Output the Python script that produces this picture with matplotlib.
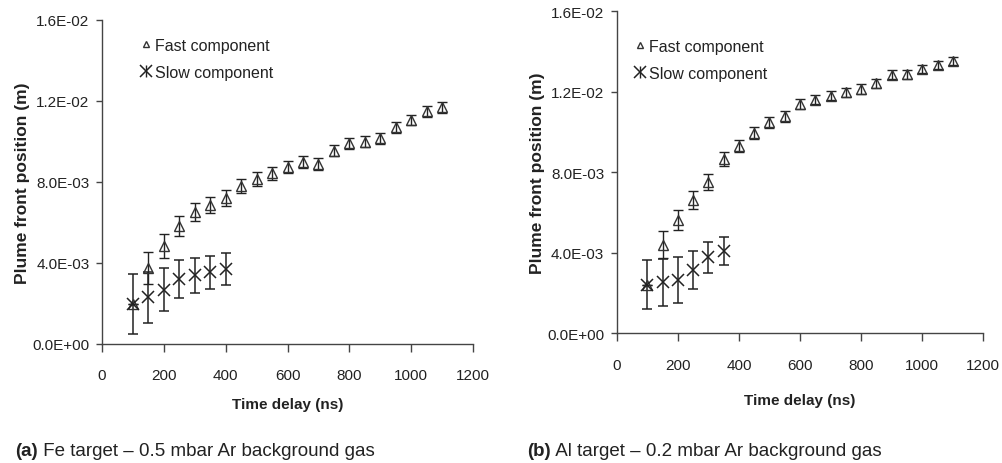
import matplotlib
matplotlib.use("Agg")
import matplotlib.pyplot as plt
from matplotlib.ticker import FuncFormatter
from matplotlib.lines import Line2D
from matplotlib.legend_handler import HandlerTuple

# (a) Fe target - 0.5 mbar Ar
fe_fast_t = [100, 150, 200, 250, 300, 350, 400, 450, 500, 550, 600,
             650, 700, 750, 800, 850, 900, 950, 1000, 1050, 1100]
fe_fast_pos = [0.00198, 0.00375, 0.00484, 0.00583, 0.0065, 0.00688, 0.0072,
               0.00779, 0.00815, 0.00843, 0.00873, 0.00897, 0.00889, 0.00955,
               0.00991, 0.00999, 0.01016, 0.0107, 0.01106, 0.01149, 0.01169]
fe_fast_err = [0.0, 0.0008, 0.0006, 0.0005, 0.00045, 0.0004, 0.00038, 0.00035,
               0.00033, 0.00032, 0.0003, 0.0003, 0.0003, 0.00028, 0.00028,
               0.00027, 0.00027, 0.00026, 0.00026, 0.00026, 0.00026]
fe_slow_t = [100, 150, 200, 250, 300, 350, 400]
fe_slow_pos = [0.00198, 0.0023, 0.00268, 0.0032, 0.0034, 0.00354, 0.0037]
fe_slow_err = [0.00148, 0.00125, 0.00107, 0.00093, 0.00086, 0.00082, 0.00079]

# (b) Al target - 0.2 mbar Ar
al_fast_t = fe_fast_t
al_fast_pos = [0.00242, 0.0044, 0.00565, 0.00662, 0.00753, 0.00866, 0.00932,
               0.00995, 0.01048, 0.01078, 0.01138, 0.01161, 0.01181, 0.01198,
               0.01214, 0.01242, 0.01284, 0.01287, 0.01313, 0.01333, 0.01353]
al_fast_err = [0.0, 0.00066, 0.0005, 0.00044, 0.00039, 0.00033, 0.0003,
               0.00028, 0.00027, 0.00026, 0.00025, 0.00024, 0.00024, 0.00023,
               0.00023, 0.00022, 0.00022, 0.00022, 0.00021, 0.00021, 0.00021]
al_slow_t = [100, 150, 200, 250, 300, 350]
al_slow_pos = [0.00242, 0.00253, 0.00265, 0.00316, 0.00378, 0.00407]
al_slow_err = [0.00123, 0.00115, 0.00112, 0.00094, 0.00077, 0.0007]

xticks = [0, 200, 400, 600, 800, 1000, 1200]
yticks = [0.0, 0.004, 0.008, 0.012, 0.016]
captions = [("(a)", " Fe target \u2013 0.5 mbar Ar background gas"),
            ("(b)", " Al target \u2013 0.2 mbar Ar background gas")]

arial = ["Liberation Sans", "DejaVu Sans"]
ink = "#222222"

fig = plt.figure(figsize=(10.02, 4.64), dpi=100)
ax1 = fig.add_axes([0.1018, 0.2565, 0.3703, 0.6983])
ax2 = fig.add_axes([0.6155, 0.2795, 0.3659, 0.6940])


def panel(ax, ft, fy, fe, st, sy, se, leg_anchor, xlab_y):
    ax.errorbar(ft, fy, yerr=fe, fmt="^", ms=6.5, mfc="none", mec="#333333",
                mew=1.0, ecolor=ink, elinewidth=1.0, capsize=3.5, capthick=1.0)
    ax.errorbar(st, sy, yerr=se, fmt="x", ms=8, mec=ink, mew=1.1,
                ecolor=ink, elinewidth=1.1, capsize=3.5, capthick=1.1)
    ax.set_xlim(0, 1200)
    ax.set_ylim(0, 0.016)
    ax.set_xticks(xticks)
    ax.set_yticks(yticks)
    ax.yaxis.set_major_formatter(FuncFormatter(lambda v, p: f"{v:.1E}"))
    for s in ["top", "right"]:
        ax.spines[s].set_visible(False)
    for s in ["left", "bottom"]:
        ax.spines[s].set_color("#444444")
        ax.spines[s].set_linewidth(1.0)
    ax.tick_params(axis="x", direction="out", length=6, width=1, color="#444444",
                   pad=11.5, labelsize=11, labelcolor=ink)
    ax.tick_params(axis="y", direction="out", length=4, width=1, color="#444444",
                   pad=5, labelsize=11, labelcolor=ink)
    for lab in ax.get_xticklabels() + ax.get_yticklabels():
        lab.set_family(arial)
    ax.set_xlabel("Time delay (ns)", family=arial, fontweight="bold",
                  fontsize=11, color=ink)
    ax.xaxis.set_label_coords(0.5, xlab_y)
    ax.set_ylabel("Plume front position (m)", family=arial, fontweight="bold",
                  fontsize=12.5, color=ink)
    ax.yaxis.set_label_coords(-0.195, 0.5)

    h_fast = Line2D([], [], ls="none", marker="^", ms=5, mfc="none",
                    mec="#333333", mew=1.0)
    h_bar = Line2D([], [], ls="none", marker="|", ms=9, mec=ink, mew=1.0)
    h_x = Line2D([], [], ls="none", marker="x", ms=8, mec=ink, mew=1.1)
    ax.legend([h_fast, (h_bar, h_x)], ["Fast component", "Slow component"],
              handler_map={tuple: HandlerTuple(ndivide=1)},
              loc="upper left", bbox_to_anchor=leg_anchor, frameon=False,
              prop={"family": arial, "size": 11.5}, handlelength=0.6,
              handletextpad=0.3, labelspacing=0.75, borderpad=0,
              borderaxespad=0, labelcolor=ink)


panel(ax1, fe_fast_t, fe_fast_pos, fe_fast_err, fe_slow_t, fe_slow_pos,
      fe_slow_err, (0.105, 0.945), -0.163)
panel(ax2, al_fast_t, al_fast_pos, al_fast_err, al_slow_t, al_slow_pos,
      al_slow_err, (0.05, 0.915), -0.185)

# caption: bold panel letter followed by regular text
fig.canvas.draw()
for x0, (tag, rest) in zip([0.015, 0.526], captions):
    t = fig.text(x0, 0.018, tag, fontsize=13.5, fontweight="bold", color=ink,
                 family=arial)
    bb = t.get_window_extent(renderer=fig.canvas.get_renderer())
    fig.text(bb.x1 / fig.bbox.width, 0.018, rest, fontsize=13.5, color=ink,
             family=arial)

fig.savefig("out.png", dpi=100)
